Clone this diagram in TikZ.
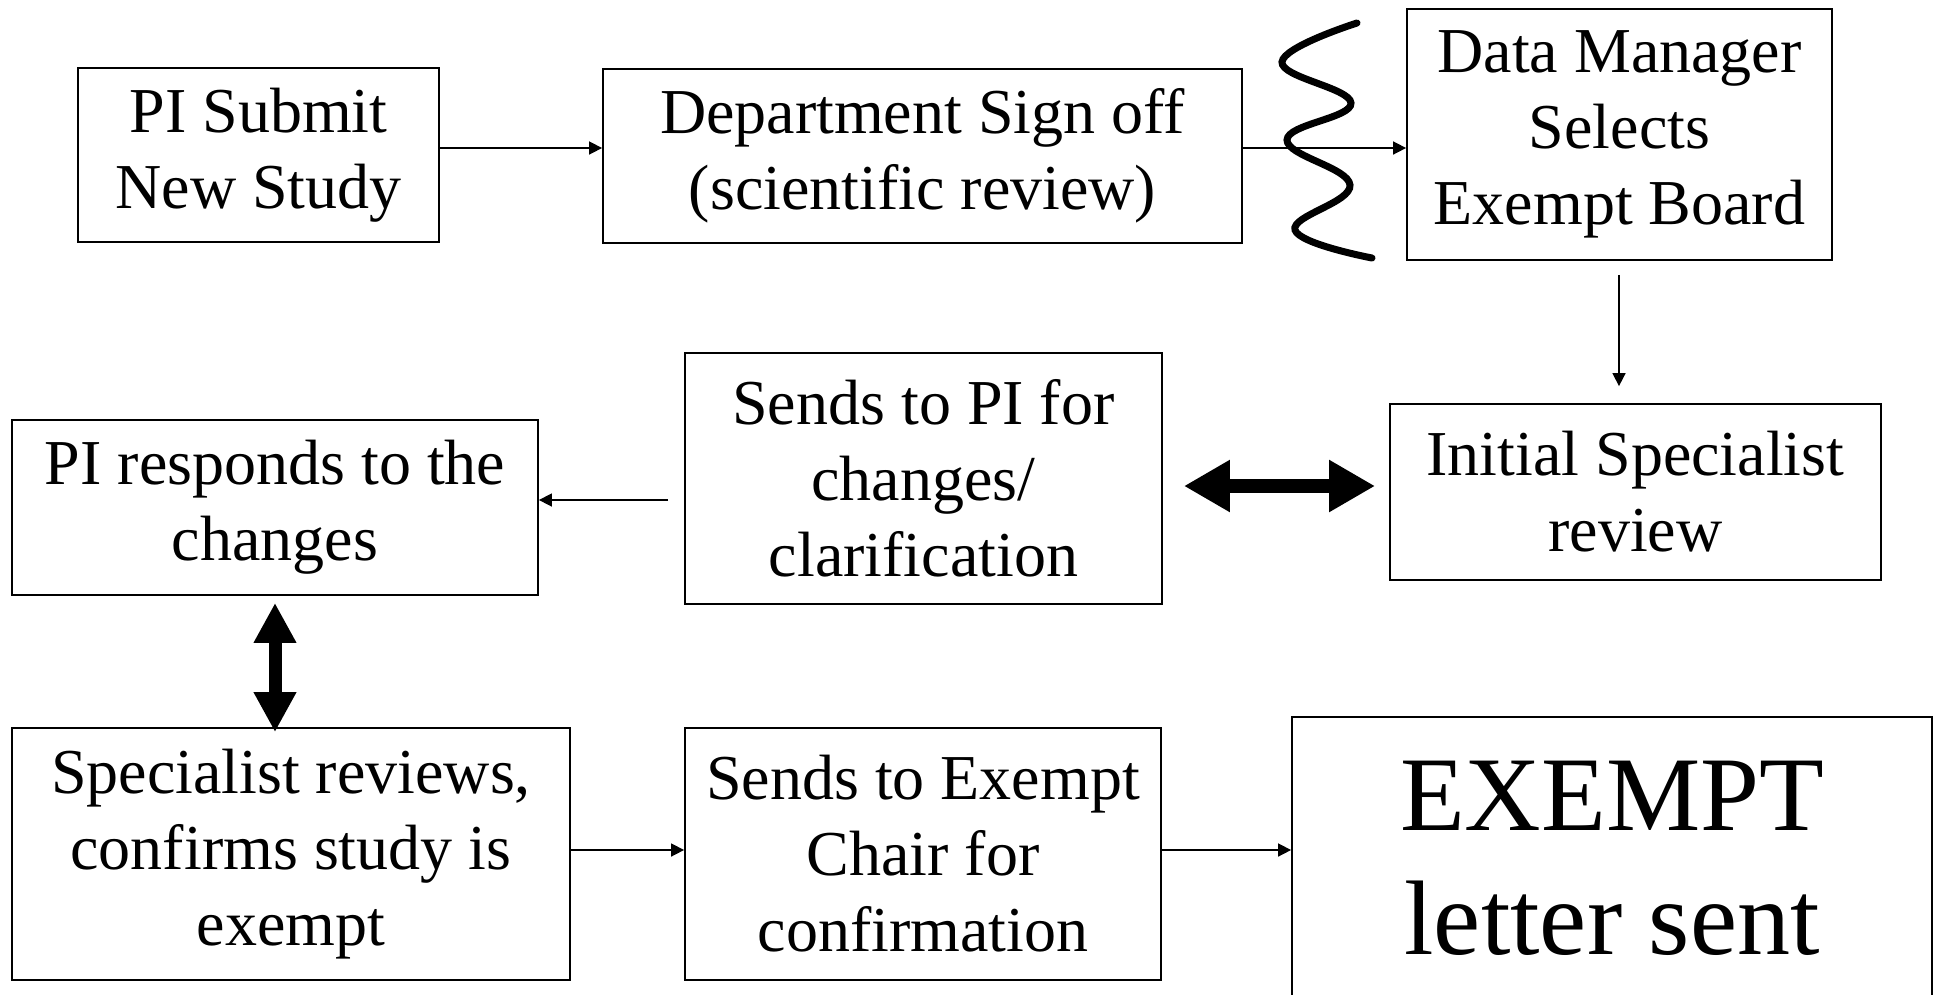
\documentclass[tikz,border=0pt]{standalone}
\usepackage{fontspec}
\setmainfont{Liberation Serif}
\usetikzlibrary{arrows.meta}
% invisible rule that sets the height of a node's first line
\newcommand\topstrut[1]{\vrule width0pt height#1 depth0pt}

\begin{document}
\begin{tikzpicture}[x=1pt,y=-1pt,
  box/.style={draw, line width=1.8pt, inner sep=0pt, align=center,
    font=\fontsize{64}{76}\selectfont,
    execute at begin node={\topstrut{84pt}}},
  bigbox/.style={box, font=\fontsize{106}{124}\selectfont,
    execute at begin node={\topstrut{90pt}}},
  thin/.style={line width=1.6pt, -{Triangle[length=13pt,width=13pt]}},
  bigarrow/.style={line width=14pt, {Triangle[length=46pt,width=49pt]}-{Triangle[length=46pt,width=49pt]}},
  tallarrow/.style={line width=13pt, {Triangle[length=40pt,width=40pt]}-{Triangle[length=40pt,width=40pt]}},
  squiggle/.style={line width=7pt, line cap=round}]

\clip (0,0) rectangle (1938,994);
\fill[white] (0,0) rectangle (1938,994);

% first row
\node[box, minimum width=361pt, minimum height=174pt] (submit) at (258.5,155) {PI Submit\\New Study};
\node[box, minimum width=639pt, minimum height=174pt] (dept) at (922.5,156) {Department Sign off\\(scientific review)};
\node[box, minimum width=425pt, minimum height=251pt] (dm) at (1619.5,134.5) {Data Manager\\Selects\\Exempt Board};

% second row
\node[box, minimum width=491pt, minimum height=176pt] (initial) at (1635.5,492) {Initial Specialist\\review};
\node[box, minimum width=477pt, minimum height=251pt] (sendpi) at (923.5,478.5) {Sends to PI for\\changes/\\clarification};
\node[box, minimum width=526pt, minimum height=175pt] (respond) at (275,507.5) {PI responds to the\\changes};

% third row
\node[box, minimum width=558pt, minimum height=252pt] (confirm) at (291,854) {Specialist reviews,\\confirms study is\\exempt};
\node[box, minimum width=476pt, minimum height=252pt] (chair) at (923,854) {Sends to Exempt\\Chair for\\confirmation};
\node[bigbox, minimum width=640pt, minimum height=283pt] (letter) at (1612,858.5) {EXEMPT\\letter sent};

% connectors
\draw[thin] (submit.east |- 0,148) -- (dept.west |- 0,148);
\draw[thin] (dept.east |- 0,148) -- (dm.west |- 0,148);
\draw[thin, shorten <=14pt, shorten >=17pt] (dm.south -| 1619,0) -- (initial.north -| 1619,0);
\draw[bigarrow, shorten <=21pt, shorten >=14pt] (sendpi.east |- 0,486) -- (initial.west |- 0,486);
\draw[thin, shorten <=16pt] (sendpi.west |- 0,500) -- (respond.east |- 0,500);
\draw[tallarrow, shorten <=7pt, shorten >=-5pt] (respond.south -| 275,0) -- (confirm.north -| 275,0);
\draw[thin] (confirm.east |- 0,850) -- (chair.west |- 0,850);
\draw[thin] (chair.east |- 0,850) -- (letter.west |- 0,850);

% break mark across the arrow into the data manager box
\draw[squiggle] plot[smooth, tension=0.7] coordinates
  {(1357,23) (1282,62) (1351,103) (1287,140) (1350,185) (1295,230) (1372,258)};
\end{tikzpicture}
\end{document}
